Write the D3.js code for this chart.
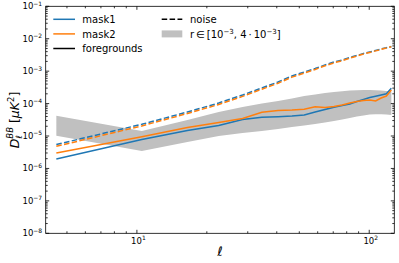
<!DOCTYPE html>
<html><head><meta charset="utf-8">
<script src="https://cdn.jsdelivr.net/npm/d3@7"></script>
<style>body{margin:0;background:#fff}svg{display:block;font-family:"DejaVu Sans",sans-serif}</style>
</head><body>
<svg id="c" width="399" height="263"></svg>
<script>
const ell = [4.5,10.5,16.5,22.5,28.5,34.5,40.5,46.5,52.5,58.5,64.5,70.5,76.5,82.5,88.5,94.5,100.5,106.5,112.5,118.5,124.5];
const mask1 = [1.95e-6,7.8e-6,1.49e-5,2.11e-5,3.23e-5,3.78e-5,3.94e-5,4.14e-5,4.45e-5,5.5e-5,6.57e-5,7.69e-5,8.73e-5,9.7e-5,1.16e-4,1.34e-4,1.54e-4,1.68e-4,1.84e-4,2.0e-4,2.96e-4];
const mask2 = [2.99e-6,9.5e-6,1.83e-5,2.61e-5,3.47e-5,5.38e-5,6.12e-5,6.34e-5,6.67e-5,8.02e-5,7.57e-5,8.13e-5,9.05e-5,1.04e-4,1.16e-4,1.25e-4,1.29e-4,1.20e-4,1.49e-4,1.71e-4,2.62e-4];
const noise1 = [5.47e-6,2.30e-5,5.5e-5,1.04e-4,1.84e-4,3.03e-4,4.63e-4,7.10e-4,9.42e-4,1.21e-3,1.55e-3,1.92e-3,2.21e-3,2.64e-3,3.04e-3,3.51e-3,3.90e-3,4.34e-3,4.82e-3,5.25e-3,5.76e-3];
const noise2 = [4.8e-6,2.05e-5,4.95e-5,9.4e-5,1.67e-4,2.77e-4,4.25e-4,6.55e-4,8.75e-4,1.13e-3,1.46e-3,1.81e-3,2.10e-3,2.52e-3,2.92e-3,3.39e-3,3.78e-3,4.22e-3,4.70e-3,5.15e-3,5.68e-3];
const bandHi = [4.23e-5,1.43e-5,3.12e-5,5.5e-5,7.85e-5,1.01e-4,1.20e-4,1.44e-4,1.71e-4,1.91e-4,2.12e-4,2.28e-4,2.41e-4,2.52e-4,2.59e-4,2.62e-4,2.62e-4,2.59e-4,2.52e-4,2.43e-4,2.33e-4];
const bandLo = [1.02e-5,3.45e-6,6.54e-6,1.0e-5,1.24e-5,1.43e-5,1.64e-5,1.90e-5,2.11e-5,2.35e-5,2.61e-5,2.90e-5,3.23e-5,3.60e-5,4.0e-5,4.30e-5,4.58e-5,4.71e-5,4.71e-5,4.58e-5,4.45e-5];
const yTickExp = [-8,-7,-6,-5,-4,-3,-2,-1];
const xTickExp = [1,2];
const blue = "#1f77b4", orange = "#ff7f0e";

const L = 45.7, R = 394.3, T = 6.3, B = 233.3;
const x = d3.scaleLog().domain([4.05, 128.2]).range([L, R]);
const y = d3.scaleLog().domain([1e-8, 1e-1]).range([B, T]);
const svg = d3.select("#c");
svg.append("defs").append("clipPath").attr("id","clip").append("rect")
  .attr("x",L).attr("y",T).attr("width",R-L).attr("height",B-T);
const g = svg.append("g").attr("clip-path","url(#clip)");

const area = d3.area().x((d,i)=>x(ell[i])).y0((d,i)=>y(bandLo[i])).y1((d,i)=>y(bandHi[i]));
g.append("path").datum(ell).attr("d", area).attr("fill","#c0c0c0").attr("stroke","none");

const line = arr => d3.line().x((d,i)=>x(ell[i])).y((d,i)=>y(arr[i]))(arr);
g.append("path").attr("d", line(mask1)).attr("fill","none").attr("stroke",blue).attr("stroke-width",1.5);
g.append("path").attr("d", line(mask2)).attr("fill","none").attr("stroke",orange).attr("stroke-width",1.5);
g.append("path").attr("d", line(noise1)).attr("fill","none").attr("stroke",blue).attr("stroke-width",1.5).attr("stroke-dasharray","5.5,2.4");
g.append("path").attr("d", line(noise2)).attr("fill","none").attr("stroke",orange).attr("stroke-width",1.5).attr("stroke-dasharray","5.5,2.4");

// ticks
const ax = svg.append("g").attr("stroke","#000").attr("stroke-width",0.8);
const xMinor = [], yMinor = [];
for (let e=0;e<=2;e++) for (let k=1;k<10;k++){const v=k*Math.pow(10,e); if(v>4.05&&v<128.2 && k>1) xMinor.push(v);}
for (let e=-8;e<-1;e++) for (let k=2;k<10;k++) yMinor.push(k*Math.pow(10,e));
xTickExp.forEach(e=>{const px=x(Math.pow(10,e));
  ax.append("line").attr("x1",px).attr("x2",px).attr("y1",B).attr("y2",B-3.5);
  ax.append("line").attr("x1",px).attr("x2",px).attr("y1",T).attr("y2",T+3.5);});
xMinor.forEach(v=>{const px=x(v);
  ax.append("line").attr("x1",px).attr("x2",px).attr("y1",B).attr("y2",B-2);
  ax.append("line").attr("x1",px).attr("x2",px).attr("y1",T).attr("y2",T+2);});
yTickExp.forEach(e=>{const py=y(Math.pow(10,e));
  ax.append("line").attr("x1",L).attr("x2",L+3.5).attr("y1",py).attr("y2",py);
  ax.append("line").attr("x1",R).attr("x2",R-3.5).attr("y1",py).attr("y2",py);});
yMinor.forEach(v=>{const py=y(v);
  ax.append("line").attr("x1",L).attr("x2",L+2).attr("y1",py).attr("y2",py);
  ax.append("line").attr("x1",R).attr("x2",R-2).attr("y1",py).attr("y2",py);});
svg.append("rect").attr("x",L).attr("y",T).attr("width",R-L).attr("height",B-T)
  .attr("fill","none").attr("stroke","#000").attr("stroke-width",0.8);

// tick labels
yTickExp.forEach(e=>{
  const t = svg.append("text").attr("x",L-3.5).attr("y",y(Math.pow(10,e))+3).attr("text-anchor","end")
    .attr("font-size",8.5).attr("fill","#000");
  t.append("tspan").text("10");
  t.append("tspan").attr("dy",-3.6).attr("font-size",6).text("\u2212"+Math.abs(e));
});
xTickExp.forEach(e=>{
  const t = svg.append("text").attr("x",x(Math.pow(10,e))+1.5).attr("y",B+10.5).attr("text-anchor","middle")
    .attr("font-size",8.5).attr("fill","#000");
  t.append("tspan").text("10");
  t.append("tspan").attr("dy",-3.6).attr("font-size",6).text(String(e));
});

// axis labels
svg.append("text").attr("x",220).attr("y",256).attr("text-anchor","middle")
  .attr("font-size",13).attr("font-style","italic").text("\u2113");
const yl = svg.append("text").attr("transform","translate(19,120) rotate(-90)").attr("text-anchor","middle")
  .attr("font-size",12.5).attr("fill","#000");
yl.append("tspan").attr("font-style","italic").text("D");
yl.append("tspan").attr("font-style","italic").attr("font-size",8.5).attr("dy",3).text("\u2113");
yl.append("tspan").attr("font-style","italic").attr("font-size",8.5).attr("dx",-3.5).attr("dy",-9).text("BB");
yl.append("tspan").attr("dy",6).text(" [");
yl.append("tspan").attr("font-style","italic").text("\u03bcK");
yl.append("tspan").attr("font-size",8.5).attr("dy",-5).text("2");
yl.append("tspan").attr("dy",5).text("]");

// legend
const lg = svg.append("g").attr("font-size",10).attr("fill","#000");
const rows = [19.3, 33.9, 48.5];
const h1 = [{c:blue,t:"mask1"},{c:orange,t:"mask2"},{c:"#000",t:"foregrounds"}];
h1.forEach((d,i)=>{
  lg.append("line").attr("x1",53.3).attr("x2",75).attr("y1",rows[i]).attr("y2",rows[i]).attr("stroke",d.c).attr("stroke-width",1.5);
  lg.append("text").attr("x",82.3).attr("y",rows[i]+3.6).text(d.t);
});
lg.append("line").attr("x1",161.7).attr("x2",182.3).attr("y1",rows[0]).attr("y2",rows[0]).attr("stroke","#000").attr("stroke-width",1.5).attr("stroke-dasharray","5.5,2.4");
lg.append("text").attr("x",190).attr("y",rows[0]+3.6).text("noise");
lg.append("rect").attr("x",161.7).attr("y",rows[1]-3.5).attr("width",20.6).attr("height",7).attr("fill","#c0c0c0");
const rt = lg.append("text").attr("x",190).attr("y",rows[1]+3.6);
rt.append("tspan").text("r\u2009\u2208\u2009[10");
rt.append("tspan").attr("dy",-4).attr("font-size",7).text("\u22123");
rt.append("tspan").attr("dy",4).text(", 4\u2009\u00b7\u200910");
rt.append("tspan").attr("dy",-4).attr("font-size",7).text("\u22123");
rt.append("tspan").attr("dy",4).text("]");
</script>
</body></html>
